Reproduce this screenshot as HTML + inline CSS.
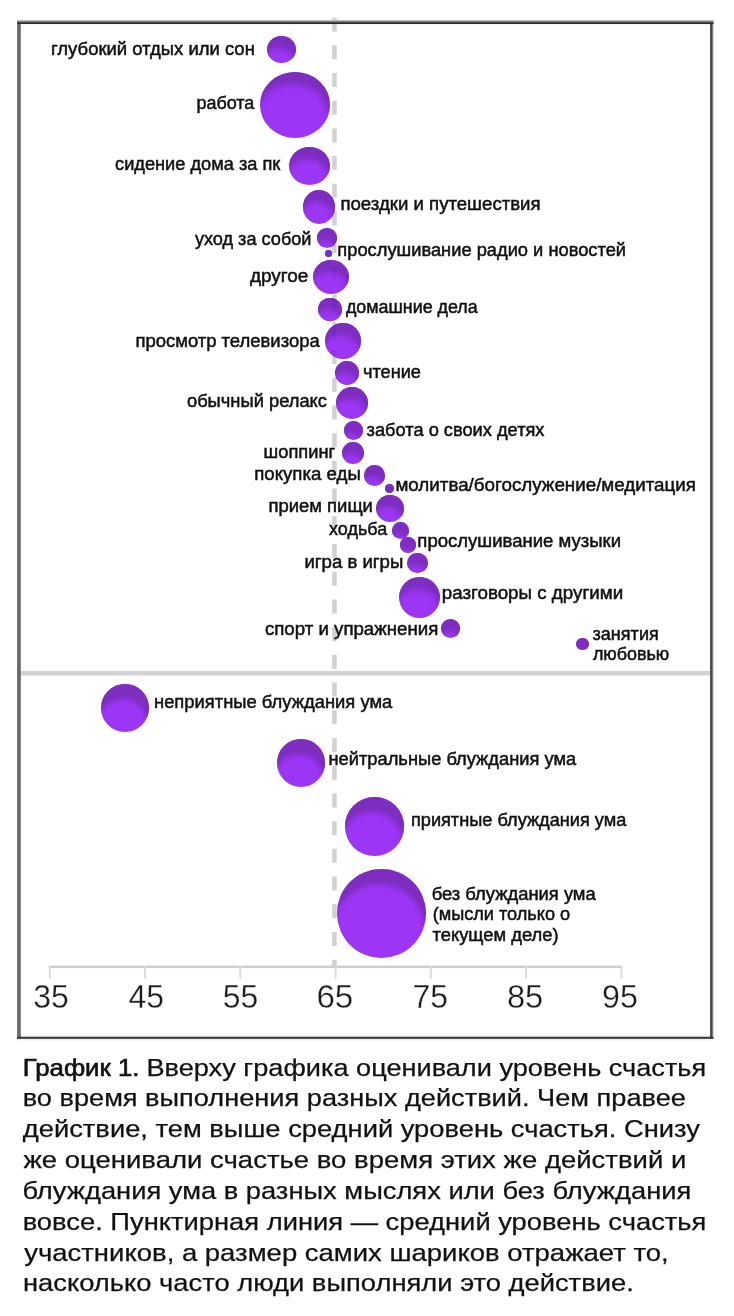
<!DOCTYPE html>
<html lang="ru"><head><meta charset="utf-8"><title>График 1</title>
<style>
html,body{margin:0;padding:0;background:#fff;}
body{width:734px;height:1316px;position:relative;overflow:hidden;font-family:"Liberation Sans",sans-serif;}
svg{position:absolute;left:0;top:0;}
.b{position:absolute;border-radius:50%;background:rgb(146,32,243);opacity:.9;box-shadow:inset -2.5px 13px 5px -1px rgba(108,24,180,.92);}
.b2{box-shadow:inset -2.5px 16px 4px -1px rgba(108,24,180,.92);}
text{font-family:"Liberation Sans",sans-serif;fill:#111;stroke:#111;stroke-width:.5px;}
.l{font-size:18.3px;}
.t{font-size:32.8px;fill:#1c1c1c;stroke:#fff;stroke-width:.3px;}
.c{font-size:24.8px;fill:#111;stroke-width:.25px;}
.cb{stroke-width:.65px;}
</style></head><body>
<svg width="734" height="1316" viewBox="0 0 734 1316">
<line x1="334.45" y1="17.55" x2="334.45" y2="966" stroke="#d2d0d2" stroke-width="4.5" stroke-dasharray="14 13.71"/>
<rect x="20" y="671" width="691" height="4.5" fill="#d3d1d3"/>
<rect x="48.8" y="965.6" width="573.4" height="2.5" fill="#cdcdcd"/>
<rect x="48.80" y="966" width="2" height="12.6" fill="#dcdcdc"/>
<rect x="144.05" y="966" width="2" height="12.6" fill="#dcdcdc"/>
<rect x="239.30" y="966" width="2" height="12.6" fill="#dcdcdc"/>
<rect x="334.55" y="966" width="2" height="12.6" fill="#dcdcdc"/>
<rect x="429.80" y="966" width="2" height="12.6" fill="#dcdcdc"/>
<rect x="525.05" y="966" width="2" height="12.6" fill="#dcdcdc"/>
<rect x="620.30" y="966" width="2" height="12.6" fill="#dcdcdc"/>
<defs><linearGradient id="gt" x1="0" y1="0" x2="0" y2="1"><stop offset="0" stop-color="#e2e2e2"/><stop offset=".3" stop-color="#a3a2a4"/><stop offset=".55" stop-color="#555357"/><stop offset=".8" stop-color="#2e2c30"/><stop offset="1" stop-color="#2e2c30"/></linearGradient><linearGradient id="gr" x1="0" y1="0" x2="1" y2="0"><stop offset="0" stop-color="#434145"/><stop offset=".45" stop-color="#4a484c"/><stop offset=".72" stop-color="#8d8b8f"/><stop offset="1" stop-color="#dcdcdc"/></linearGradient></defs>
<rect x="17.2" y="1035.2" width="696" height="5.4" fill="#f1f1f1"/>
<rect x="17.1" y="21" width="3.7" height="1017.6" fill="#6a686c"/>
<rect x="710.1" y="21" width="3.6" height="1017.6" fill="url(#gr)"/>
<rect x="17.1" y="19.8" width="696.4" height="4.25" fill="url(#gt)"/>
<rect x="17.1" y="1036.8" width="696.4" height="2" fill="#353337"/>
</svg>
<div class="b" style="left:267.0px;top:36.0px;width:28.9px;height:26.7px"></div>
<div class="b" style="left:259.9px;top:72.0px;width:70.3px;height:66.4px"></div>
<div class="b" style="left:289.1px;top:146.8px;width:41.1px;height:38.1px"></div>
<div class="b" style="left:303.0px;top:189.9px;width:32.4px;height:34.0px"></div>
<div class="b" style="left:316.6px;top:228.1px;width:20.5px;height:19.8px"></div>
<div class="b" style="left:324.8px;top:249.5px;width:7.3px;height:7.1px"></div>
<div class="b" style="left:312.9px;top:260.0px;width:36.0px;height:33.8px"></div>
<div class="b" style="left:318.2px;top:298.0px;width:23.6px;height:23.4px"></div>
<div class="b" style="left:325.0px;top:323.1px;width:35.8px;height:36.3px"></div>
<div class="b" style="left:335.3px;top:360.9px;width:23.8px;height:23.9px"></div>
<div class="b" style="left:335.7px;top:387.2px;width:32.0px;height:31.7px"></div>
<div class="b" style="left:344.0px;top:421.0px;width:18.7px;height:18.7px"></div>
<div class="b" style="left:342.1px;top:441.6px;width:22.2px;height:22.3px"></div>
<div class="b" style="left:364.4px;top:465.2px;width:20.7px;height:20.7px"></div>
<div class="b" style="left:384.9px;top:484.2px;width:8.7px;height:8.5px"></div>
<div class="b" style="left:376.3px;top:494.7px;width:27.8px;height:27.2px"></div>
<div class="b" style="left:391.8px;top:521.9px;width:17.2px;height:16.8px"></div>
<div class="b" style="left:400.1px;top:537.2px;width:15.7px;height:15.7px"></div>
<div class="b" style="left:407.1px;top:552.9px;width:20.7px;height:20.5px"></div>
<div class="b" style="left:398.7px;top:576.8px;width:41.2px;height:41.1px"></div>
<div class="b" style="left:441.2px;top:619.3px;width:19.1px;height:18.7px"></div>
<div class="b" style="left:576.3px;top:637.9px;width:12.8px;height:12.2px"></div>
<div class="b b2" style="left:100.9px;top:684.3px;width:48.0px;height:48.2px"></div>
<div class="b b2" style="left:276.9px;top:739.2px;width:48.4px;height:48.0px"></div>
<div class="b b2" style="left:345.3px;top:797.0px;width:58.7px;height:58.7px"></div>
<div class="b b2" style="left:337.2px;top:869.3px;width:88.7px;height:88.9px"></div>
<svg width="734" height="1316" viewBox="0 0 734 1316">
<text id="l1" class="l" x="51.00" y="54.5" textLength="203.85" lengthAdjust="spacingAndGlyphs">глубокий отдых или сон</text>
<text id="l2" class="l" x="196.45" y="108.9" textLength="57.85" lengthAdjust="spacingAndGlyphs">работа</text>
<text id="l3" class="l" x="115.05" y="170.4" textLength="165.20" lengthAdjust="spacingAndGlyphs">сидение дома за пк</text>
<text id="l4" class="l" x="340.45" y="210.3" textLength="200.15" lengthAdjust="spacingAndGlyphs">поездки и путешествия</text>
<text id="l5" class="l" x="194.90" y="244.5" textLength="116.60" lengthAdjust="spacingAndGlyphs">уход за собой</text>
<text id="l6" class="l" x="337.35" y="256.0" textLength="288.70" lengthAdjust="spacingAndGlyphs">прослушивание радио и новостей</text>
<text id="l7" class="l" x="249.95" y="281.5" textLength="58.45" lengthAdjust="spacingAndGlyphs">другое</text>
<text id="l8" class="l" x="345.95" y="312.6" textLength="131.80" lengthAdjust="spacingAndGlyphs">домашние дела</text>
<text id="l9" class="l" x="135.45" y="347.2" textLength="184.30" lengthAdjust="spacingAndGlyphs">просмотр телевизора</text>
<text id="l10" class="l" x="362.95" y="377.8" textLength="58.05" lengthAdjust="spacingAndGlyphs">чтение</text>
<text id="l11" class="l" x="186.95" y="407.0" textLength="140.05" lengthAdjust="spacingAndGlyphs">обычный релакс</text>
<text id="l12" class="l" x="366.60" y="435.8" textLength="177.90" lengthAdjust="spacingAndGlyphs">забота о своих детях</text>
<text id="l13" class="l" x="263.60" y="458.3" textLength="71.60" lengthAdjust="spacingAndGlyphs">шоппинг</text>
<text id="l14" class="l" x="254.20" y="480.1" textLength="106.65" lengthAdjust="spacingAndGlyphs">покупка еды</text>
<text id="l15" class="l" x="395.40" y="490.7" textLength="300.60" lengthAdjust="spacingAndGlyphs">молитва/богослужение/медитация</text>
<text id="l16" class="l" x="268.45" y="512.4" textLength="104.45" lengthAdjust="spacingAndGlyphs">прием пищи</text>
<text id="l17" class="l" x="329.10" y="535.3" textLength="58.05" lengthAdjust="spacingAndGlyphs">ходьба</text>
<text id="l18" class="l" x="417.35" y="547.2" textLength="203.65" lengthAdjust="spacingAndGlyphs">прослушивание музыки</text>
<text id="l19" class="l" x="304.45" y="567.8" textLength="98.85" lengthAdjust="spacingAndGlyphs">игра в игры</text>
<text id="l20" class="l" x="441.75" y="598.7" textLength="181.40" lengthAdjust="spacingAndGlyphs">разговоры с другими</text>
<text id="l21" class="l" x="264.90" y="634.8" textLength="173.40" lengthAdjust="spacingAndGlyphs">спорт и упражнения</text>
<text id="l22" class="l" x="592.50" y="639.8" textLength="66.30" lengthAdjust="spacingAndGlyphs">занятия</text>
<text id="l23" class="l" x="592.90" y="659.8" textLength="76.40" lengthAdjust="spacingAndGlyphs">любовью</text>
<text id="l24" class="l" x="154.00" y="708.2" textLength="238.25" lengthAdjust="spacingAndGlyphs">неприятные блуждания ума</text>
<text id="l25" class="l" x="328.45" y="764.6" textLength="247.80" lengthAdjust="spacingAndGlyphs">нейтральные блуждания ума</text>
<text id="l26" class="l" x="410.95" y="826.2" textLength="215.40" lengthAdjust="spacingAndGlyphs">приятные блуждания ума</text>
<text id="l27" class="l" x="431.65" y="899.9" textLength="164.10" lengthAdjust="spacingAndGlyphs">без блуждания ума</text>
<text id="l28" class="l" x="432.65" y="920.2" textLength="137.50" lengthAdjust="spacingAndGlyphs">(мысли только о</text>
<text id="l29" class="l" x="432.55" y="940.6" textLength="126.00" lengthAdjust="spacingAndGlyphs">текущем деле)</text>
<text id="t1" class="t" x="33.25" y="1008.4" textLength="35.60" lengthAdjust="spacingAndGlyphs">35</text>
<text id="t2" class="t" x="128.40" y="1008.4" textLength="35.60" lengthAdjust="spacingAndGlyphs">45</text>
<text id="t3" class="t" x="222.65" y="1008.4" textLength="35.55" lengthAdjust="spacingAndGlyphs">55</text>
<text id="t4" class="t" x="316.40" y="1008.4" textLength="36.90" lengthAdjust="spacingAndGlyphs">65</text>
<text id="t5" class="t" x="412.40" y="1008.4" textLength="35.60" lengthAdjust="spacingAndGlyphs">75</text>
<text id="t6" class="t" x="506.95" y="1008.4" textLength="36.35" lengthAdjust="spacingAndGlyphs">85</text>
<text id="t7" class="t" x="602.10" y="1008.4" textLength="35.90" lengthAdjust="spacingAndGlyphs">95</text>
<text id="c0" class="c cb" x="22.65" y="1075.6" textLength="116.90" lengthAdjust="spacingAndGlyphs">График 1.</text>
<text id="c1" class="c" x="146.45" y="1075.6" textLength="559.80" lengthAdjust="spacingAndGlyphs">Вверху графика оценивали уровень счастья</text>
<text id="c2" class="c" x="22.65" y="1106.4" textLength="663.30" lengthAdjust="spacingAndGlyphs">во время выполнения разных действий. Чем правее</text>
<text id="c3" class="c" x="22.80" y="1137.4" textLength="677.15" lengthAdjust="spacingAndGlyphs">действие, тем выше средний уровень счастья. Снизу</text>
<text id="c4" class="c" x="23.40" y="1168.1" textLength="662.95" lengthAdjust="spacingAndGlyphs">же оценивали счастье во время этих же действий и</text>
<text id="c5" class="c" x="22.40" y="1199.0" textLength="668.90" lengthAdjust="spacingAndGlyphs">блуждания ума в разных мыслях или без блуждания</text>
<text id="c6" class="c" x="22.65" y="1229.8" textLength="683.75" lengthAdjust="spacingAndGlyphs">вовсе. Пунктирная линия — средний уровень счастья</text>
<text id="c7" class="c" x="24.20" y="1260.6" textLength="644.45" lengthAdjust="spacingAndGlyphs">участников, а размер самих шариков отражает то,</text>
<text id="c8" class="c" x="22.95" y="1291.4" textLength="610.80" lengthAdjust="spacingAndGlyphs">насколько часто люди выполняли это действие.</text>
</svg>
</body></html>
